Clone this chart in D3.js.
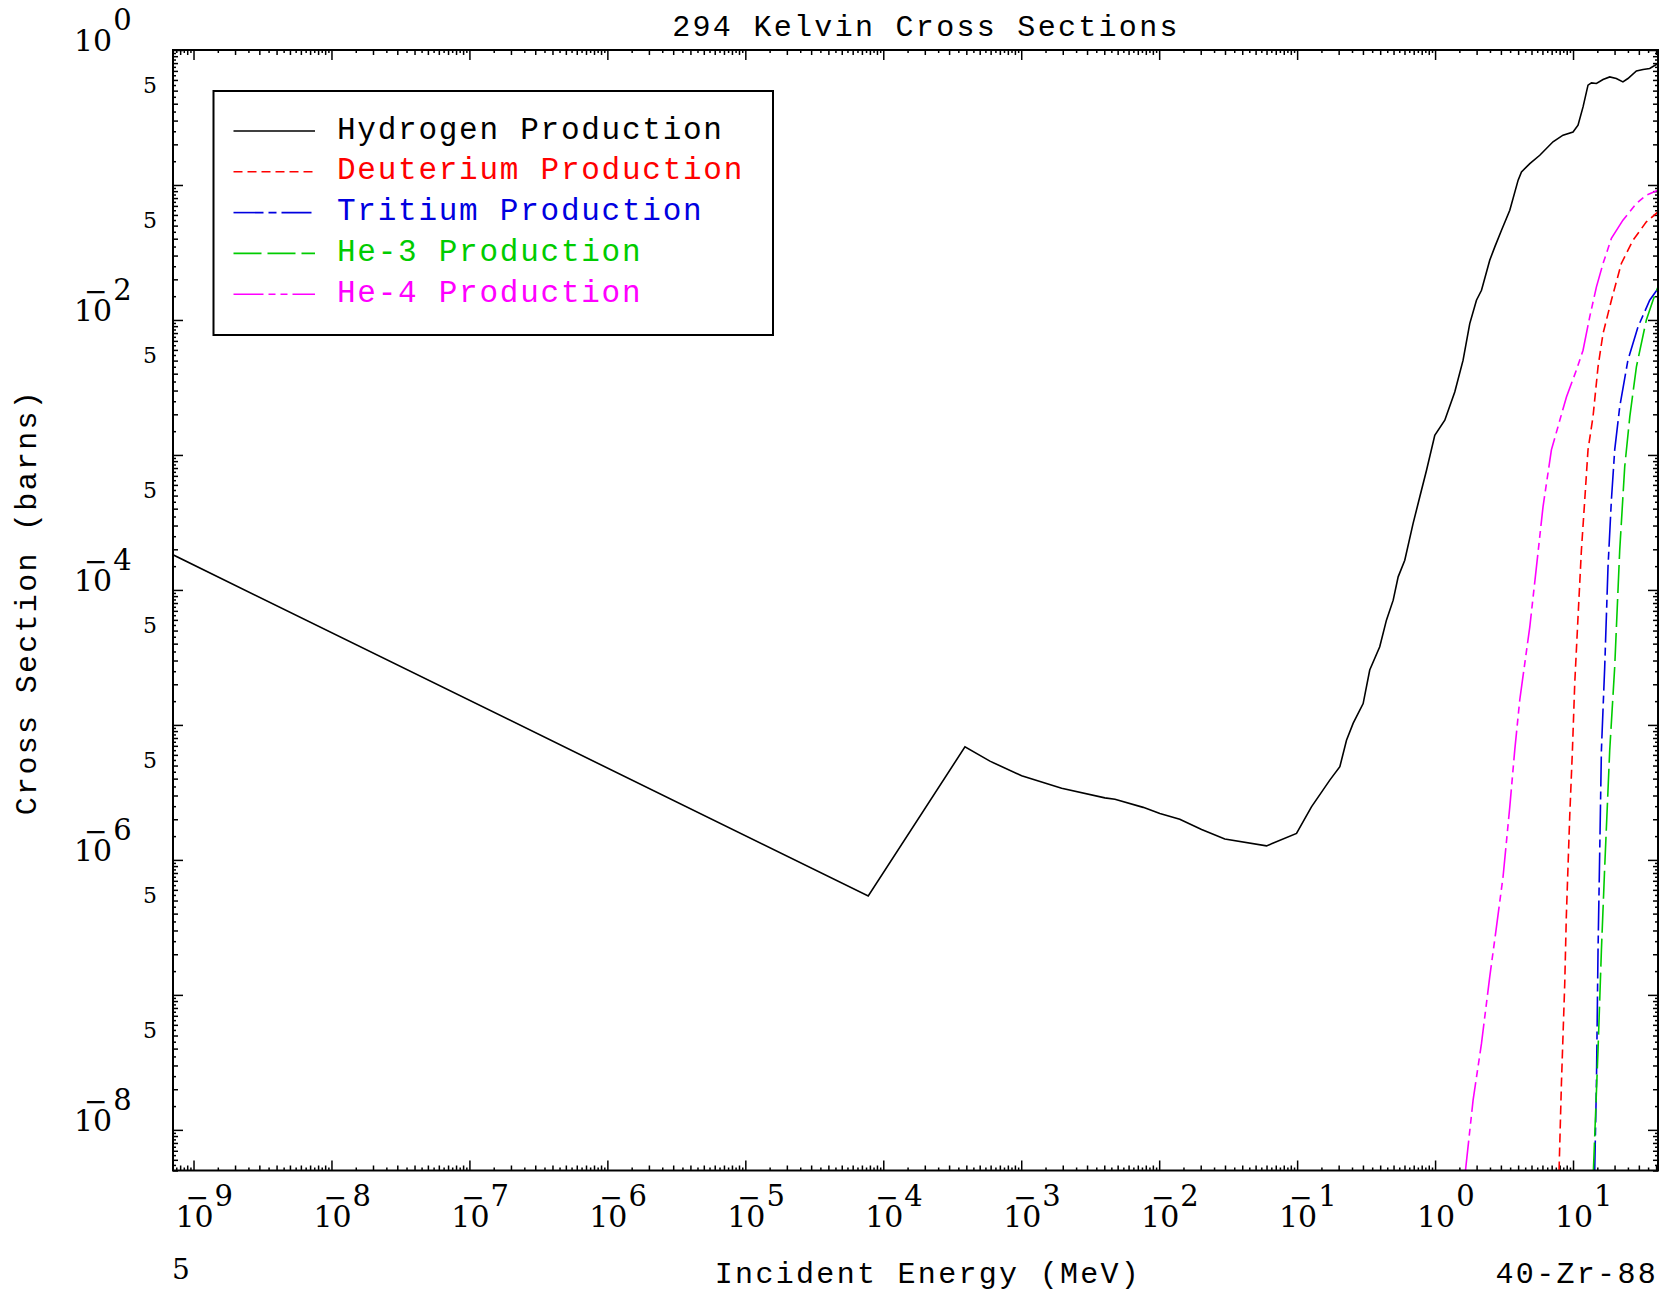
<!DOCTYPE html>
<html>
<head>
<meta charset="utf-8">
<script src="https://cdn.jsdelivr.net/npm/d3@7"></script>
<style>
  body { margin: 0; background: #fff; }
  svg text { font-family: "Liberation Mono", monospace; }
  svg text.num { font-family: "DejaVu Serif", serif; }
</style>
</head>
<body>
<svg id="graph" width="1663" height="1294"></svg>
<script>
"use strict";

// [energy (MeV), cross section (barns)]
var hydrogen = [
  [7.1e-10, 1.82e-4], [7.78e-5, 5.40e-7], [3.91e-4, 6.88e-6], [5.93e-4, 5.39e-6],
  [1.007e-3, 4.20e-6], [1.963e-3, 3.39e-6], [4.04e-3, 2.88e-6], [4.78e-3, 2.81e-6],
  [7.66e-3, 2.45e-6], [1.012e-2, 2.21e-6], [1.41e-2, 2.0e-6], [2.03e-2, 1.68e-6],
  [2.99e-2, 1.43e-6], [6.0e-2, 1.27e-6], [9.9e-2, 1.57e-6], [0.127, 2.47e-6],
  [0.1725, 3.90e-6], [0.204, 4.9e-6], [0.228, 7.7e-6], [0.255, 1.03e-5],
  [0.301, 1.44e-5], [0.336, 2.55e-5], [0.397, 3.79e-5], [0.444, 5.97e-5],
  [0.497, 8.4e-5], [0.540, 1.25e-4], [0.603, 1.66e-4], [0.693, 3.11e-4],
  [0.775, 4.9e-4], [0.867, 7.7e-4], [0.995, 1.40e-3], [1.176, 1.81e-3],
  [1.389, 2.93e-3], [1.596, 5.04e-3], [1.784, 9.4e-3], [1.995, 1.40e-2],
  [2.17, 1.66e-2], [2.49, 2.77e-2], [2.71, 3.48e-2], [3.03, 4.62e-2],
  [3.48, 6.5e-2], [4.0, 0.1086], [4.23, 0.125], [4.86, 0.144],
  [5.74, 0.166], [7.16, 0.209], [8.46, 0.234], [10.0, 0.247],
  [10.87, 0.277], [11.82, 0.379], [12.84, 0.549], [13.6, 0.571],
  [14.78, 0.565], [16.5, 0.605], [18.45, 0.632], [20.6, 0.615],
  [23.0, 0.580], [25.0, 0.615], [28.8, 0.700], [32.2, 0.717],
  [35.96, 0.729], [41.3, 0.795]
];

var deuterium = [
  [7.92, 5e-9], [8.24, 2.21e-8], [8.71, 1.22e-7], [8.94, 3.79e-7], [9.46, 2.09e-6],
  [9.9, 6.5e-6], [10.29, 2.03e-5], [10.87, 6.3e-5], [11.5, 1.97e-4], [12.16, 4.63e-4],
  [12.84, 1.09e-3], [13.96, 1.92e-3], [15.18, 4.5e-3], [16.5, 7.94e-3], [18.97, 1.40e-2],
  [22.4, 2.62e-2], [27.2, 3.9e-2], [34.0, 5.33e-2], [41.3, 6.32e-2]
];

var tritium = [
  [14.36, 5e-9], [14.78, 2.21e-8], [15.18, 2.15e-7], [15.62, 1.18e-6], [16.06, 6.5e-6],
  [16.97, 2.69e-5], [17.93, 1.48e-4], [18.97, 4.63e-4], [20.05, 1.09e-3], [21.8, 2.27e-3],
  [25.0, 5.04e-3], [29.6, 8.9e-3], [35.96, 1.40e-2], [41.3, 1.71e-2]
];

var helium3 = [
  [14.05, 5e-9], [15.18, 3.9e-8], [16.06, 2.15e-7], [16.97, 8.9e-7], [18.45, 6.5e-6],
  [20.05, 2.69e-5], [21.8, 1.97e-4], [23.7, 8.2e-4], [25.8, 1.92e-3], [28.8, 4.5e-3],
  [34.0, 1.0e-2], [38.0, 1.40e-2], [41.3, 1.76e-2]
];

var helium4 = [
  [1.661, 5e-9], [1.886, 1.66e-8], [2.17, 4.37e-8], [2.49, 1.36e-7], [2.786, 3.19e-7],
  [3.11, 7.5e-7], [3.48, 2.47e-6], [3.78, 6.5e-6], [4.11, 1.53e-5], [4.86, 5.33e-5],
  [5.43, 1.48e-4], [6.06, 4.13e-4], [6.97, 1.09e-3], [7.78, 1.62e-3], [8.96, 2.69e-3],
  [10.58, 4.25e-3], [11.82, 5.97e-3], [13.2, 1.05e-2], [14.78, 1.76e-2], [16.5, 2.62e-2],
  [18.97, 4.02e-2], [23.0, 5.49e-2], [28.8, 7.29e-2], [34.0, 8.4e-2], [41.3, 9.15e-2]
];

var seriesData = [hydrogen, deuterium, tritium, helium3, helium4];
var seriesNames = ["Hydrogen Production", "Deuterium Production", "Tritium Production",
                   "He-3 Production", "He-4 Production"];
var seriesColors = ["#000000", "#ff0000", "#0000e0", "#00cc00", "#ff00ff"];
var seriesDash = [null, "9,5", "30,5,8,5", "28,6", "30,5,7,5,7,5"];

var xDecades = [-9, -8, -7, -6, -5, -4, -3, -2, -1, 0, 1];
var yDecades = [0, -2, -4, -6, -8];
var yFives = [-1, -2, -3, -4, -5, -6, -7, -8];

var titleText = "294 Kelvin Cross Sections",
    xTitle = "Incident Energy (MeV)",
    yTitle = "Cross Section (barns)",
    material = "40-Zr-88",
    cornerLabel = "5";

var svg = d3.select("#graph");
var
  pLeft = 173, pRight = 1658, pTop = 50, pBottom = 1170.5;

var x = d3.scaleLog().domain([7.1e-10, 41.3]).range([pLeft, pRight]);
var y = d3.scaleLog().domain([5e-9, 1]).range([pBottom, pTop]);

svg.append("rect").attr("width", 1663).attr("height", 1294).attr("fill", "#fff");

svg.append("defs").append("clipPath").attr("id", "plotClip")
  .append("rect")
  .attr("x", pLeft).attr("y", pTop)
  .attr("width", pRight - pLeft).attr("height", pBottom - pTop);

// log ticks at every half step of the mantissa
function logTicks(scale, test) {
  var ext = d3.extent(scale.domain()), out = [];
  for (var p = Math.floor(Math.log10(ext[0])); p <= Math.ceil(Math.log10(ext[1])); p++) {
    for (var m = 1; m < 10; m += 0.5) {
      if (!test(m)) continue;
      var v = m * Math.pow(10, p);
      if (v >= ext[0] * 0.9999 && v <= ext[1] * 1.0001) out.push(v);
    }
  }
  return out;
}

var tickKinds = [
  {test: m => m == 1, size: 10},
  {test: m => m > 1 && m % 1 == 0, size: 5},
  {test: m => m % 1 != 0, size: 3}
];

function styleAxis(g) {
  g.select(".domain").remove();
  g.selectAll(".tick line").attr("stroke", "#000").attr("stroke-width", 1.5);
}

tickKinds.forEach(function(k) {
  var xv = logTicks(x, k.test), yv = logTicks(y, k.test);
  svg.append("g").attr("transform", "translate(0," + pBottom + ")")
    .call(d3.axisTop(x).tickValues(xv).tickSize(k.size).tickSizeOuter(0).tickFormat(""))
    .call(styleAxis);
  svg.append("g").attr("transform", "translate(0," + pTop + ")")
    .call(d3.axisBottom(x).tickValues(xv).tickSize(k.size).tickSizeOuter(0).tickFormat(""))
    .call(styleAxis);
  svg.append("g").attr("transform", "translate(" + pLeft + ",0)")
    .call(d3.axisRight(y).tickValues(yv).tickSize(k.size).tickSizeOuter(0).tickFormat(""))
    .call(styleAxis);
  svg.append("g").attr("transform", "translate(" + pRight + ",0)")
    .call(d3.axisLeft(y).tickValues(yv).tickSize(k.size).tickSizeOuter(0).tickFormat(""))
    .call(styleAxis);
});

// Curves
var line = d3.line()
  .x(d => x(d[0]))
  .y(d => y(d[1]));

svg.append("g").attr("clip-path", "url(#plotClip)")
  .selectAll("path")
  .data(seriesData)
  .join("path")
    .attr("d", line)
    .attr("fill", "none")
    .attr("stroke", (d, i) => seriesColors[i])
    .attr("stroke-width", 1.6)
    .attr("stroke-dasharray", (d, i) => seriesDash[i]);

// Frame
svg.append("rect")
  .attr("x", pLeft).attr("y", pTop)
  .attr("width", pRight - pLeft).attr("height", pBottom - pTop)
  .attr("fill", "none").attr("stroke", "#000").attr("stroke-width", 2);

// 10^n labels, the minus sits as a bar over the zero
function powLabel(x0, base, exp, centre) {
  var t = svg.append("text").attr("class", "num")
    .attr("y", base)
    .attr("font-size", 30).attr("fill", "#000")
    .text("10");
  var w = t.node().getComputedTextLength();
  if (centre) x0 = x0 - w / 2;
  t.attr("x", x0);
  if (exp < 0) {
    t.append("tspan").attr("x", x0 + 10).attr("y", base - 20)
      .attr("font-size", 28).text("\u2212");
  }
  t.append("tspan").attr("x", x0 + w + 1).attr("y", base - 21)
    .attr("font-size", 29).text(Math.abs(exp));
}

xDecades.forEach(d => powLabel(x(Math.pow(10, d)) + 1, 1227, d, true));
yDecades.forEach(d => powLabel(74, y(Math.pow(10, d)) + 1, d, false));

svg.selectAll("text.five")
  .data(yFives)
  .join("text")
    .attr("class", "num five")
    .attr("x", 157)
    .attr("y", d => y(5 * Math.pow(10, d)) + 2)
    .attr("text-anchor", "end")
    .attr("font-size", 22)
    .text("5");

svg.append("text").attr("class", "num")
  .attr("x", 172).attr("y", 1279)
  .attr("font-size", 28)
  .text(cornerLabel);

// Titles
var mono = {size: 30, spacing: 2.3};

svg.append("text")
  .attr("x", 926).attr("y", 36)
  .attr("text-anchor", "middle")
  .attr("font-size", mono.size).attr("letter-spacing", mono.spacing)
  .text(titleText);

svg.append("text")
  .attr("x", 928).attr("y", 1283)
  .attr("text-anchor", "middle")
  .attr("font-size", mono.size).attr("letter-spacing", mono.spacing)
  .text(xTitle);

svg.append("text")
  .attr("x", 1658).attr("y", 1283)
  .attr("text-anchor", "end")
  .attr("font-size", mono.size).attr("letter-spacing", mono.spacing)
  .text(material);

svg.append("text")
  .attr("transform", "translate(36,602) rotate(-90)")
  .attr("text-anchor", "middle")
  .attr("font-size", mono.size).attr("letter-spacing", mono.spacing)
  .text(yTitle);

// Legend
var legend = svg.append("g");
legend.append("rect")
  .attr("x", 213.5).attr("y", 91)
  .attr("width", 773 - 213.5).attr("height", 335 - 91)
  .attr("fill", "#fff").attr("stroke", "#000").attr("stroke-width", 2);

var rows = legend.selectAll("g.row")
  .data(seriesNames)
  .join("g")
    .attr("class", "row")
    .attr("transform", (d, i) => "translate(0," + (131 + i * 40.8) + ")");

rows.append("line")
  .attr("x1", 233.5).attr("x2", 315)
  .attr("stroke", (d, i) => seriesColors[i])
  .attr("stroke-width", 1.6)
  .attr("stroke-dasharray", (d, i) => seriesDash[i]);

rows.append("text")
  .attr("x", 337).attr("y", 7.5)
  .attr("font-size", 31).attr("letter-spacing", 1.75)
  .attr("fill", (d, i) => seriesColors[i])
  .text(d => d);
</script>
</body>
</html>
